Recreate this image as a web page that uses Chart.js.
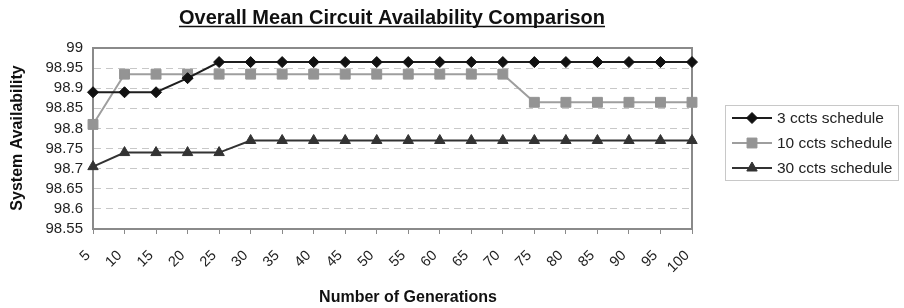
<!DOCTYPE html>
<html>
<head>
<meta charset="utf-8">
<style>
  html, body { margin: 0; padding: 0; background: #fff; }
  #wrap { width: 904px; height: 308px; position: relative; }
</style>
<script src="https://cdn.jsdelivr.net/npm/chart.js@4.4.1/dist/chart.umd.min.js"></script>
</head>
<body>
<div id="wrap"><canvas id="chart" width="904" height="308"></canvas></div>
<script>
  // data
  const generations = ["5", "10", "15", "20", "25", "30", "35", "40", "45", "50",
                       "55", "60", "65", "70", "75", "80", "85", "90", "95", "100"];
  const ccts3  = [98.89, 98.89, 98.89, 98.925, 98.965, 98.965, 98.965, 98.965, 98.965, 98.965,
                  98.965, 98.965, 98.965, 98.965, 98.965, 98.965, 98.965, 98.965, 98.965, 98.965];
  const ccts10 = [98.81, 98.935, 98.935, 98.935, 98.935, 98.935, 98.935, 98.935, 98.935, 98.935,
                  98.935, 98.935, 98.935, 98.935, 98.865, 98.865, 98.865, 98.865, 98.865, 98.865];
  const ccts30 = [98.705, 98.74, 98.74, 98.74, 98.74, 98.77, 98.77, 98.77, 98.77, 98.77,
                  98.77, 98.77, 98.77, 98.77, 98.77, 98.77, 98.77, 98.77, 98.77, 98.77];
  const seriesNames = ["3 ccts schedule", "10 ccts schedule", "30 ccts schedule"];
  const yMin = 98.55, yMax = 99, yStep = 0.05;

  const chartTitle = "Overall Mean Circuit Availability Comparison";
  const xTitle = "Number of Generations";
  const yTitle = "System Availability";

  const FONT = "'Liberation Sans', Arial, sans-serif";
  Chart.defaults.font.family = FONT;
  Chart.defaults.color = "#222";

  // box around plot area (top and right edges)
  const frame = {
    id: "frame",
    beforeDatasetsDraw(chart) {
      const a = chart.chartArea, ctx = chart.ctx;
      ctx.save();
      ctx.setLineDash([]);
      ctx.strokeStyle = "#8a8a8a";
      ctx.lineWidth = 2;
      ctx.strokeRect(a.left, a.top, a.right - a.left, a.bottom - a.top);
      ctx.restore();
    }
  };

  // titles: chart title (underlined), axis titles
  const titles = {
    id: "titles",
    afterDraw(chart) {
      const ctx = chart.ctx;
      ctx.save();
      ctx.fillStyle = "#111";
      ctx.textAlign = "center";
      ctx.textBaseline = "alphabetic";

      ctx.font = "bold 20px " + FONT;
      ctx.fillText(chartTitle, 392, 23.5);
      const w = ctx.measureText(chartTitle).width;
      ctx.strokeStyle = "#111";
      ctx.lineWidth = 1.5;
      ctx.beginPath();
      ctx.moveTo(392 - w / 2, 26.5);
      ctx.lineTo(392 + w / 2, 26.5);
      ctx.stroke();

      ctx.textBaseline = "middle";
      ctx.font = "bold 16px " + FONT;
      ctx.fillText(xTitle, 408, 298);

      ctx.translate(18, 138);
      ctx.rotate(-Math.PI / 2);
      ctx.fillText(yTitle, 0, 0);
      ctx.restore();
    }
  };

  // legend with line + marker samples, boxed, to the right
  const sideLegend = {
    id: "sideLegend",
    afterDraw(chart) {
      const ctx = chart.ctx;
      const x0 = 725, y0 = 105, w = 173, h = 75;
      ctx.save();
      ctx.fillStyle = "#fff";
      ctx.fillRect(x0, y0, w, h);
      ctx.strokeStyle = "#c8c8c8";
      ctx.lineWidth = 1;
      ctx.strokeRect(x0 + 0.5, y0 + 0.5, w, h);
      chart.data.datasets.forEach((ds, i) => {
        const y = 118 + i * 25;
        ctx.strokeStyle = ds.borderColor;
        ctx.lineWidth = ds.borderWidth;
        ctx.beginPath();
        ctx.moveTo(732, y);
        ctx.lineTo(772, y);
        ctx.stroke();
        ctx.fillStyle = ds.pointBackgroundColor;
        ctx.strokeStyle = ds.pointBorderColor;
        ctx.lineWidth = 1;
        Chart.helpers.drawPoint(ctx, {
          pointStyle: ds.pointStyle, radius: ds.pointRadius, rotation: 0, borderWidth: 1
        }, 752, y);
        ctx.fillStyle = "#222";
        ctx.font = "15.5px " + FONT;
        ctx.textBaseline = "middle";
        ctx.textAlign = "left";
        ctx.fillText(ds.label, 777, y + 1);
      });
      ctx.restore();
    }
  };

  function series(label, data, line, fill, style, r) {
    return {
      label, data,
      borderColor: line, borderWidth: 2,
      pointStyle: style, pointRadius: r, pointHoverRadius: r,
      pointBackgroundColor: fill, pointBorderColor: fill, pointBorderWidth: 1,
      tension: 0, clip: false
    };
  }

  new Chart(document.getElementById("chart"), {
    type: "line",
    data: {
      labels: generations,
      datasets: [
        series(seriesNames[0], ccts3, "#1e1e1e", "#111", "rectRot", 5.5),
        series(seriesNames[1], ccts10, "#9e9e9e", "#949494", "rect", 7),
        series(seriesNames[2], ccts30, "#333", "#333", "triangle", 6)
      ]
    },
    plugins: [frame, titles, sideLegend],
    options: {
      responsive: false,
      animation: false,
      layout: { padding: { left: 0, right: 212, top: 48, bottom: 0 } },
      plugins: {
        legend: { display: false },
        tooltip: { enabled: false },
        title: { display: false }
      },
      scales: {
        x: {
          offset: false,
          afterFit: s => { s.height = 79; },
          grid: { display: true, drawOnChartArea: false, drawTicks: true, tickLength: 5, color: "#8a8a8a" },
          border: { display: true, color: "#8a8a8a", width: 2 },
          ticks: { autoSkip: false, maxRotation: 45, minRotation: 45, font: { size: 14.5 }, color: "#222",
                   padding: 13, labelOffset: -5 }
        },
        y: {
          min: yMin, max: yMax,
          afterFit: s => { s.width = 93; },
          grid: { color: "#c8c8c8", drawTicks: false },
          border: { display: true, color: "#8a8a8a", width: 2, dash: [7, 5] },
          ticks: {
            stepSize: yStep, autoSkip: false, font: { size: 15 }, color: "#222", padding: 10,
            callback: v => String(Number(v.toFixed(2)))
          }
        }
      }
    }
  });
</script>
</body>
</html>
